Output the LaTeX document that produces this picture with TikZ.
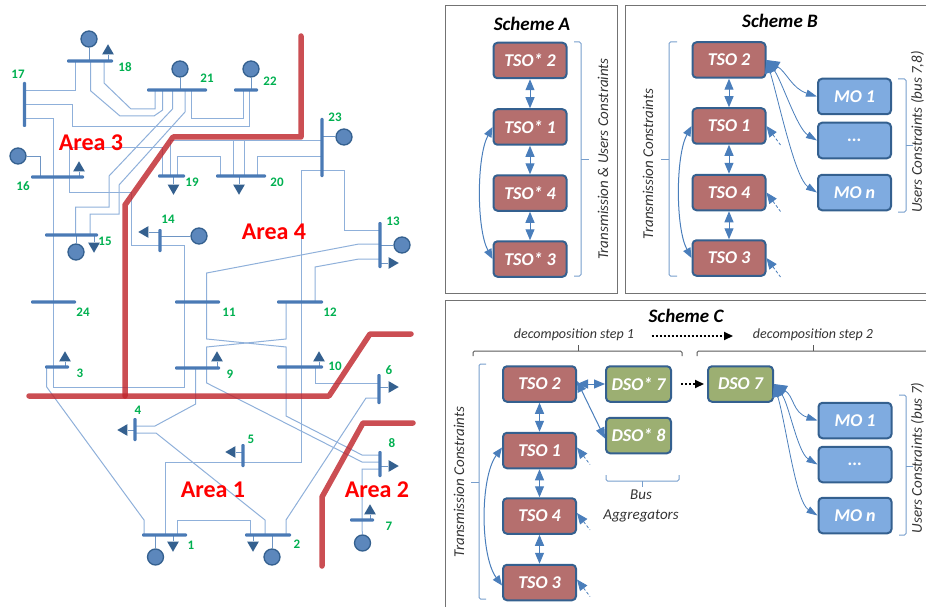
\documentclass[tikz,border=0pt]{standalone}
\usepackage{fontspec}
\setmainfont{Carlito}
\usepackage{xcolor}
\usepackage{tikz}
\usetikzlibrary{arrows.meta, positioning, backgrounds, shapes.geometric}

\definecolor{busblue}{HTML}{4A7AB5}
\definecolor{wireblue}{HTML}{8FB0DA}
\definecolor{arrowblue}{HTML}{4A7EBB}
\definecolor{edgeblue}{HTML}{34608F}
\definecolor{tsored}{HTML}{B56F6E}
\definecolor{dsogreen}{HTML}{9CAF72}
\definecolor{mofill}{HTML}{7FABE0}
\definecolor{gridred}{HTML}{C0272D}
\definecolor{numgreen}{HTML}{00B050}

\tikzset{
  hbus/.style={fill=busblue, rounded corners=1, inner sep=0, minimum height=3.2, minimum width=#1},
  vbus/.style={fill=busblue, rounded corners=1, inner sep=0, minimum width=3.2, minimum height=#1},
  gen/.style={circle, fill=busblue!90!white, draw=edgeblue, line width=1.3, minimum size=16, inner sep=0},
  loadup/.style={regular polygon, regular polygon sides=3, fill=edgeblue, inner sep=0, minimum size=13.5},
  loaddown/.style={loadup, shape border rotate=180},
  loadleft/.style={loadup, shape border rotate=90},
  loadright/.style={loadup, shape border rotate=270},
  wire/.style={draw=wireblue, line width=1},
  stem/.style={draw=busblue!80!white, line width=1},
  cut/.style={draw=gridred, opacity=.82, line width=5.5, line cap=round, line join=round},
  busnum/.style={text=numgreen, font=\fontsize{13}{15}\selectfont\bfseries},
  arealabel/.style={text=red, font=\fontsize{24}{26}\selectfont\bfseries},
  unitbox/.style={draw=edgeblue, line width=2, rounded corners=4, inner sep=0, minimum height=35.5, text=white,
    font=\fontsize{18}{20}\selectfont\bfseries\itshape},
  tsobox/.style={unitbox, fill=tsored, minimum width=73},
  dsobox/.style={unitbox, fill=dsogreen, minimum width=65},
  mobox/.style={unitbox, fill=mofill, minimum width=73},
  schemebox/.style={draw=black!55, line width=1},
  schemetitle/.style={font=\fontsize{19}{21}\selectfont\bfseries\itshape},
  sidetext/.style={rotate=90, inner sep=0, text=black!80, font=\fontsize{15}{17}\selectfont\itshape},
  steptext/.style={text=black!80, font=\fontsize{14}{16}\selectfont\itshape},
  bracket/.style={draw=arrowblue!75!white, line width=1, rounded corners=1.5},
  stepbracket/.style={draw=black!65, line width=1, rounded corners=1.5},
  twoway/.style={{Triangle[length=11pt,width=9pt]}-{Triangle[length=11pt,width=9pt]}, draw=arrowblue, line width=1},
  swing/.style={{Triangle[length=10pt,width=8pt]}-{Triangle[length=10pt,width=8pt]}, draw=arrowblue, line width=1},
  fan/.style={{Triangle[length=13pt,width=11pt]}-{Triangle[length=11pt,width=7pt]}, draw=arrowblue, line width=.8},
  feed/.style={{Triangle[length=11pt,width=9pt]}-, draw=arrowblue, line width=.8, densely dashed},
  nextstep/.style={-{Triangle[length=9pt,width=8pt]}, draw=black, line width=2, dash pattern=on 2pt off 2pt},
}

\begin{document}
\begin{tikzpicture}[x=1pt, y=-1pt]

  \clip (0,0) rectangle (926,607);

  % buses
  \node[hbus=46] (b18) at (90,61) {};
  \node[hbus=60] (b21) at (177,90) {};
  \node[hbus=24] (b22) at (246,90) {};
  \node[vbus=45] (b17) at (24.5,104.5) {};
  \node[hbus=53] (b16) at (57.5,177) {};
  \node[hbus=27] (b19) at (171.5,176) {};
  \node[hbus=50] (b20) at (241,176) {};
  \node[vbus=59] (b23) at (322,147.5) {};
  \node[vbus=23] (b14) at (160,240.5) {};
  \node[hbus=53] (b15) at (71.5,235) {};
  \node[hbus=45] (b24) at (53.5,302) {};
  \node[hbus=24] (b3) at (57,367) {};
  \node[hbus=45] (b11) at (197.5,302) {};
  \node[hbus=45] (b9) at (197.5,368) {};
  \node[hbus=46] (b12) at (300,302) {};
  \node[hbus=46] (b10) at (300,367) {};
  \node[vbus=46] (b13) at (380,245) {};
  \node[vbus=30] (b6) at (379,389) {};
  \node[vbus=23] (b4) at (135,429.5) {};
  \node[vbus=23] (b5) at (243,455.5) {};
  \node[vbus=26] (b8) at (380,464) {};
  \node[hbus=24] (b7) at (362,520) {};
  \node[hbus=45] (b1) at (164.5,535) {};
  \node[hbus=46] (b2) at (268,535) {};

  % generators
  \node[gen] (g18) at (89,39) {};
  \node[gen] (g21) at (180,69) {};
  \node[gen] (g22) at (251,69) {};
  \node[gen] (g16) at (18,156) {};
  \node[gen] (g23) at (344,137) {};
  \node[gen] (g14) at (199,236) {};
  \node[gen] (g15) at (76,252) {};
  \node[gen] (g13) at (402,245) {};
  \node[gen] (g7) at (362.5,543) {};
  \node[gen] (g1) at (155.5,557) {};
  \node[gen] (g2) at (272,557) {};

  % loads
  \node[loadup] (l18) at (108,51) {};
  \node[loadup] (l16) at (79,168) {};
  \node[loaddown] (l19) at (173.5,188) {};
  \node[loaddown] (l20) at (239,188) {};
  \node[loaddown] (l15) at (94,246) {};
  \node[loadup] (l3) at (65,358) {};
  \node[loadup] (l9) at (217,358) {};
  \node[loadup] (l10) at (319,358) {};
  \node[loadleft] (l14) at (145,232) {};
  \node[loadright] (l13) at (392,263) {};
  \node[loadright] (l6) at (392,387) {};
  \node[loadleft] (l4) at (124,430) {};
  \node[loadleft] (l5) at (232,452) {};
  \node[loadright] (l8) at (392,466) {};
  \node[loadup] (l7) at (370,511) {};
  \node[loaddown] (l1) at (173,545) {};
  \node[loaddown] (l2) at (253,545) {};

  \begin{scope}[on background layer]
    % stems
    \draw[stem] (g18) -- (g18 |- b18);
    \draw[stem] (g21) -- (g21 |- b21);
    \draw[stem] (g22) -- (g22 |- b22);
    \draw[stem] (g16) -| (40,0 |- b16);
    \draw[stem] (g23) -- (b23 |- g23);
    \draw[stem] (g14) -- (b14 |- g14);
    \draw[stem] (g15) -- (g15 |- b15);
    \draw[stem] (g13) -- (b13 |- g13);
    \draw[stem] (g1) -- (g1 |- b1);
    \draw[stem] (g2) -- (g2 |- b2);
    \draw[stem] (l18) -- (l18 |- b18);
    \draw[stem] (l16) -- (l16 |- b16);
    \draw[stem] (l19) -- (l19 |- b19);
    \draw[stem] (l20) -- (l20 |- b20);
    \draw[stem] (l15) -- (l15 |- b15);
    \draw[stem] (l3) -- (l3 |- b3);
    \draw[stem] (l9) -- (l9 |- b9);
    \draw[stem] (l10) -- (l10 |- b10);
    \draw[stem] (l14) -- (b14 |- l14);
    \draw[stem] (l13) -- (b13 |- l13);
    \draw[stem] (l6) -- (b6 |- l6);
    \draw[stem] (l4) -- (b4 |- l4);
    \draw[stem] (l5) -- (b5 |- l5);
    \draw[stem] (l8) -- (b8 |- l8);
    \draw[stem] (l7) -- (l7 |- b7);
    \draw[stem] (l1) -- (l1 |- b1);
    \draw[stem] (l2) -- (l2 |- b2);

    % lines
    \draw[wire] (75.5,0 |- b18) -- (75.5,90.5) -- (b17 |- 0,90.5);
    \draw[wire] (90.5,0 |- b18) -- (90.5,90.7) -- (120,116) -- (154,116) -- (162.7,110) -- (162.7,0 |- b21);
    \draw[wire] (104,0 |- b18) -- (104,83) -- (131,109) -- (155,109) -- (155,0 |- b21);
    \draw[wire] (172.5,0 |- b21) -- (172.5,109) -- (109,176) -- (109,207) -- (75.5,207) -- (75.5,0 |- b15);
    \draw[wire] (185,0 |- b21) -- (185,112) -- (119,185) -- (119,214) -- (90,214) -- (90,0 |- b15);
    \draw[wire] (191,0 |- b21) -- (191,119) -- (243,119) -- (243,0 |- b22);
    \draw[wire] (b17 |- 0,105) -- (72,105) -- (72,127) -- (249.5,127) -- (249.5,0 |- b22);
    \draw[wire] (b17 |- 0,119) -- (53.7,119) -- (53.7,387) -- (184,387) -- (184,245) -- (131,245) -- (131,192) -- (69,192) -- (69,0 |- b16);
    \draw[wire] (69,0 |- b16) -- (69,148) -- (162,148) -- (162,0 |- b19);
    \draw[wire] (b23 |- 0,141) -- (170,141) -- (170,0 |- b19);
    \draw[wire] (177,0 |- b19) -- (177,156) -- (220.7,156) -- (220.7,0 |- b20);
    \draw[wire] (233,0 |- b20) -- (233,141);
    \draw[wire] (244,0 |- b20) -- (244,141);
    \draw[wire] (257,0 |- b20) -- (257,156) -- (b23 |- 0,156);
    \draw[wire] (b23 |- 0,170) -- (344,170) -- (344,230) -- (b13 |- 0,230);
    \draw[wire] (b23 |- 0,170) -- (301,170) -- (301,462) -- (165,462) -- (165,0 |- b1);
    \draw[wire] (177,0 |- b1) -- (177,520) -- (250,520) -- (250,0 |- b2);
    \draw[wire] (144,0 |- b1) -- (144,520) -- (46.7,387) -- (46.7,0 |- b3);
    \draw[wire] (b4 |- 0,426) -- (155,426) -- (195.7,404) -- (195.7,0 |- b9);
    \draw[wire] (b4 |- 0,433) -- (156,433) -- (265,520) -- (265,0 |- b2);
    \draw[wire] (286,0 |- b2) -- (286,520) -- (366,398) -- (b6 |- 0,398);
    \draw[wire] (206.7,0 |- b11) -- (206.7,273) -- (359,244) -- (b13 |- 0,244);
    \draw[wire] (315,0 |- b12) -- (315,267) -- (359,259) -- (b13 |- 0,259);
    \draw[wire] (206.7,0 |- b11) -- (206.7,339) -- (286,347) -- (286,416) -- (362,455) -- (b8 |- 0,455);
    \draw[wire] (286,0 |- b12) -- (286,339) -- (206.7,347) -- (206.7,383) -- (362,462) -- (b8 |- 0,462);
    \draw[wire] (315,0 |- b10) -- (315,383) -- (b6 |- 0,383);
    \draw[wire] (b8 |- 0,469) -- (362,469) -- (362,0 |- b7) -- (g7);
  \end{scope}

  % area borders
  \draw[cut] (301,36) -- (301,137) -- (173,137) -- (125,205) -- (125,396);
  \draw[cut] (29,396) -- (329,396) -- (370,334) -- (411,334);
  \draw[cut] (413,423) -- (363,423) -- (322,497) -- (322,566);

  \node[arealabel] (area3) at (91,143) {Area 3};
  \node[arealabel] (area4) at (274,232) {Area 4};
  \node[arealabel] (area1) at (213,490) {Area 1};
  \node[arealabel] (area2) at (377,490) {Area 2};

  \node[busnum] (n18) at (125,67) {18};
  \node[busnum] (n17) at (18,74) {17};
  \node[busnum] (n21) at (207,78) {21};
  \node[busnum] (n22) at (270,81) {22};
  \node[busnum] (n23) at (335,117) {23};
  \node[busnum] (n16) at (23,186) {16};
  \node[busnum] (n19) at (192,182) {19};
  \node[busnum] (n20) at (277,182) {20};
  \node[busnum] (n14) at (168,219) {14};
  \node[busnum] (n15) at (105,241) {15};
  \node[busnum] (n13) at (393,221) {13};
  \node[busnum] (n24) at (83,312) {24};
  \node[busnum] (n11) at (229,312) {11};
  \node[busnum] (n12) at (330,312) {12};
  \node[busnum] (n3) at (80,373) {3};
  \node[busnum] (n9) at (230,374) {9};
  \node[busnum] (n10) at (335,366) {10};
  \node[busnum] (n6) at (389,370) {6};
  \node[busnum] (n4) at (138,410) {4};
  \node[busnum] (n5) at (251,439) {5};
  \node[busnum] (n8) at (392,443) {8};
  \node[busnum] (n7) at (389,526) {7};
  \node[busnum] (n1) at (191,545) {1};
  \node[busnum] (n2) at (297,544) {2};

  % scheme A
  \draw[schemebox] (445,6) rectangle (617.5,293);
  \node[schemetitle] (titlea) at (532,24) {Scheme A};
  \node[tsobox] (asofour) at (530,193) {TSO* 4};
  \node[tsobox] (asotwo) at (530,60.5) {TSO* 2};
  \node[tsobox] (asoone) at (530,127) {TSO* 1};
  \node[tsobox] (asothree) at (530,259) {TSO* 3};
  \draw[twoway] (asotwo) -- (asoone);
  \draw[twoway] (asoone) -- (asofour);
  \draw[twoway] (asofour) -- (asothree);
  \draw[swing] (asoone.west) .. controls +(-16,30) and +(-16,-30) .. (asothree.west);
  \draw[bracket] (574,42) -- (581,42) -- (581,276) -- (574,276);
  \draw[bracket] (581,159) -- (589,159);
  \node[sidetext] (texta) at (603,159) {Transmission \& Users Constraints};

  % scheme B
  \draw[schemebox] (625.5,6) rectangle (945,293);
  \node[schemetitle] (titleb) at (780,21) {Scheme B};
  \node[tsobox] (btwo) at (729,60) {TSO 2};
  \node[tsobox] (bone) at (729,126) {TSO 1};
  \node[tsobox] (bfour) at (729,192.5) {TSO 4};
  \node[tsobox] (bthree) at (729,258) {TSO 3};
  \node[mobox] (bmoone) at (854.5,96.5) {MO 1};
  \node[mobox] (bmodots) at (854.5,140.5) {...};
  \node[mobox] (bmon) at (854.5,192.5) {MO n};
  \draw[twoway] (btwo) -- (bone);
  \draw[twoway] (bone) -- (bfour);
  \draw[twoway] (bfour) -- (bthree);
  \draw[swing] (bone.west) .. controls +(-16,30) and +(-16,-30) .. (bthree.west);
  \draw[fan] (btwo.east) .. controls +(20,12) and +(-25,-8) .. (bmoone.west);
  \draw[fan] (btwo.east) .. controls +(15,20) and +(-20,-12) .. (bmodots.west);
  \draw[fan] (btwo.east) .. controls +(12,40) and +(-22,-14) .. (bmon.west);
  \draw[feed] (bone.east) -- ++(14,19);
  \draw[feed] (bfour.east) -- ++(14,19);
  \draw[feed] (bthree.east) -- ++(14,19);
  \draw[bracket] (677,42) -- (669,42) -- (669,276) -- (677,276);
  \draw[bracket] (669,159) -- (661,159);
  \draw[bracket] (898,79) -- (906,79) -- (906,212) -- (898,212);
  \draw[bracket] (906,146) -- (913,146);
  \node[sidetext] (textbl) at (648,164) {Transmission Constraints};
  \node[sidetext] (textbr) at (917.5,132) {Users Constraints (bus 7,8)};

  % scheme C
  \draw[schemebox] (445,300) rectangle (945,620);
  \node[schemetitle] (titlec) at (686,316) {Scheme C};
  \node[steptext] (stepone) at (574,335) {decomposition step 1};
  \node[steptext] (steptwo) at (813,335) {decomposition step 2};
  \draw[nextstep] (stepone.east) ++(14,1) coordinate (stepfrom) -- (733,336);
  \draw[stepbracket] (473,356) -- (473,351) -- (682,351) -- (682,356);
  \draw[stepbracket] (578,351) -- (578,345);
  \draw[stepbracket] (697,356) -- (697,351) -- (945,351);
  \draw[stepbracket] (813,351) -- (813,345);
  \node[tsobox] (ctwo) at (539.5,384) {TSO 2};
  \node[tsobox] (cone) at (539.5,450.5) {TSO 1};
  \node[tsobox] (cfour) at (539.5,516) {TSO 4};
  \node[tsobox] (cthree) at (539.5,582.5) {TSO 3};
  \node[dsobox] (cdsosevenb) at (638.5,384) {DSO* 7};
  \node[dsobox] (cdsoeight) at (638.5,435.5) {DSO* 8};
  \node[dsobox] (cdsoseven) at (740.5,384) {DSO 7};
  \node[mobox] (cmoone) at (855,420.5) {MO 1};
  \node[mobox] (cmodots) at (855,464.5) {...};
  \node[mobox] (cmon) at (855,515.5) {MO n};
  \draw[twoway] (ctwo) -- (cone);
  \draw[twoway] (cone) -- (cfour);
  \draw[twoway] (cfour) -- (cthree);
  \draw[swing] ([yshift=3]cone.west) .. controls +(-22,30) and +(-22,-30) .. ([yshift=-3]cthree.west);
  \draw[twoway] (ctwo.east) -- (cdsosevenb.west);
  \draw[twoway] ([yshift=3]ctwo.east) -- ([yshift=-3]cdsoeight.west);
  \draw[nextstep, shorten <=9, shorten >=3] (cdsosevenb.east) -- (cdsoseven.west);
  \draw[fan] (cdsoseven.east) .. controls +(20,12) and +(-25,-8) .. (cmoone.west);
  \draw[fan] (cdsoseven.east) .. controls +(15,20) and +(-20,-12) .. (cmodots.west);
  \draw[fan] (cdsoseven.east) .. controls +(12,40) and +(-22,-14) .. (cmon.west);
  \draw[feed] ([yshift=3]cone.east) -- ++(13,17);
  \draw[feed] ([yshift=3]cfour.east) -- ++(13,17);
  \draw[feed] ([yshift=3]cthree.east) -- ++(13,17);
  \draw[bracket] (486,364) -- (479,364) -- (479,599) -- (486,599);
  \draw[bracket] (479,482) -- (471,482);
  \draw[bracket] (606,475) -- (606,481) -- (679,481) -- (679,475);
  \draw[bracket] (642,481) -- (642,487);
  \draw[bracket] (899,395) -- (906,395) -- (906,535) -- (899,535);
  \draw[bracket] (906,466) -- (913,466);
  \node[sidetext] (textcl) at (459,482) {Transmission Constraints};
  \node[sidetext] (textcr) at (917.5,458) {Users Constraints (bus 7)};
  \node[steptext, align=center, font=\fontsize{15}{20}\selectfont\itshape] (busagg) at (641,506) {Bus\\Aggregators};

\end{tikzpicture}
\end{document}
